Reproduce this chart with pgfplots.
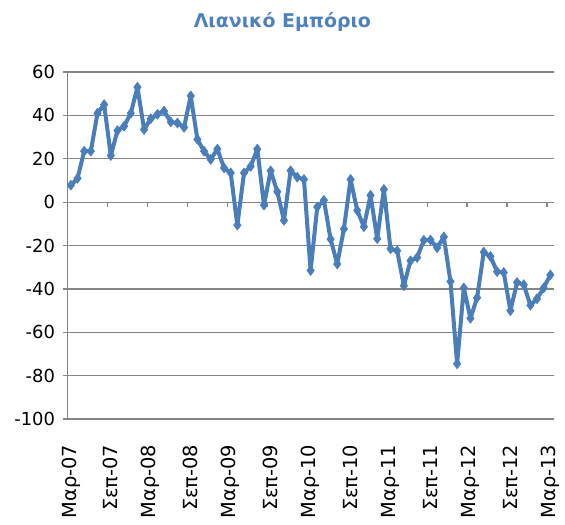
\documentclass[border=0pt]{standalone}
\usepackage{pgfplots}
\pgfplotsset{compat=1.18}
\usepackage{fontspec}
\setmainfont{DejaVu Sans}
\definecolor{lineblue}{RGB}{74,126,187}
\definecolor{titleblue}{RGB}{79,129,189}
\definecolor{gridgray}{RGB}{134,134,134}
\pgfplotstableread{
x y
0 7.8
1 11
2 23.5
3 23.5
4 41
5 45
6 21.5
7 33
8 35
9 41
10 53
11 33.5
12 38.5
13 40.5
14 42
15 37
16 36.5
17 34.5
18 49
19 29
20 23.5
21 19.7
22 24.5
23 15.8
24 13.5
25 -10.6
26 13.5
27 16.5
28 24.5
29 -1.4
30 14.5
31 4.8
32 -8.4
33 14.5
34 11.5
35 10.5
36 -31.5
37 -2.2
38 0.9
39 -17
40 -28.5
41 -12.3
42 10.5
43 -3.8
44 -11.3
45 3.2
46 -16.8
47 5.9
48 -21.5
49 -22.4
50 -38.5
51 -27
52 -25.5
53 -17.5
54 -17.4
55 -21
56 -16
57 -36.5
58 -74.5
59 -39.5
60 -53.5
61 -44
62 -23
63 -25
64 -32
65 -32.4
66 -50
67 -37
68 -38
69 -47.5
70 -44.5
71 -39.5
72 -33.5
}\retail
\begin{document}
\begin{tikzpicture}
\begin{axis}[
  scale only axis, width=486bp, height=347bp,
  xmin=-0.5, xmax=72.5, ymin=-100, ymax=60,
  separate axis lines,
  axis x line*=bottom, axis y line*=left,
  x axis line style={draw=none},
  y axis line style={gridgray, line width=1.3bp},
  ytick={-100,-80,...,60},
  yticklabels={-100,-80,-60,-40,-20,0,20,40,60},
  ytick style={gridgray, line width=1.3bp},
  tick align=outside, major tick length=5bp,
  xtick={0,6,...,72},
  xticklabels={Μαρ-07,Σεπ-07,Μαρ-08,Σεπ-08,Μαρ-09,Σεπ-09,Μαρ-10,Σεπ-10,Μαρ-11,Σεπ-11,Μαρ-12,Σεπ-12,Μαρ-13},
  xtick style={draw=none},
  xticklabel style={rotate=90, anchor=east, font=\fontsize{19.5}{22}\selectfont},
  xticklabel shift=17bp,
  yticklabel style={font=\fontsize{18}{20}\selectfont, xshift=-4bp},
  ymajorgrids, grid style={gridgray, line width=1.3bp},
  clip=false,
]
\draw[gridgray, line width=1.3bp]
  (axis cs:-0.5,0) -- ++(0pt,-5bp)
  (axis cs:5.5,0) -- ++(0pt,-5bp)
  (axis cs:11.5,0) -- ++(0pt,-5bp)
  (axis cs:17.5,0) -- ++(0pt,-5bp)
  (axis cs:23.5,0) -- ++(0pt,-5bp)
  (axis cs:29.5,0) -- ++(0pt,-5bp)
  (axis cs:35.5,0) -- ++(0pt,-5bp)
  (axis cs:41.5,0) -- ++(0pt,-5bp)
  (axis cs:47.5,0) -- ++(0pt,-5bp)
  (axis cs:53.5,0) -- ++(0pt,-5bp)
  (axis cs:59.5,0) -- ++(0pt,-5bp)
  (axis cs:65.5,0) -- ++(0pt,-5bp)
  (axis cs:71.5,0) -- ++(0pt,-5bp);
\addplot[lineblue, line width=4bp, line join=round, mark=diamond*, mark size=5bp, mark options={fill=lineblue, line width=0.5bp}] table[x=x,y=y] {\retail};
\node[font=\bfseries\fontsize{19}{22}\selectfont, text=titleblue, yshift=50bp] at (rel axis cs:0.442,1) {Λιανικό Εμπόριο};
\path (rel axis cs:0,1) ++(-67.5bp,72bp) coordinate (tl);
\path (rel axis cs:1,0) ++(11.3bp,-105bp) coordinate (br);
\end{axis}
\pgfresetboundingbox
\path (tl) rectangle (br);
\end{tikzpicture}
\end{document}
